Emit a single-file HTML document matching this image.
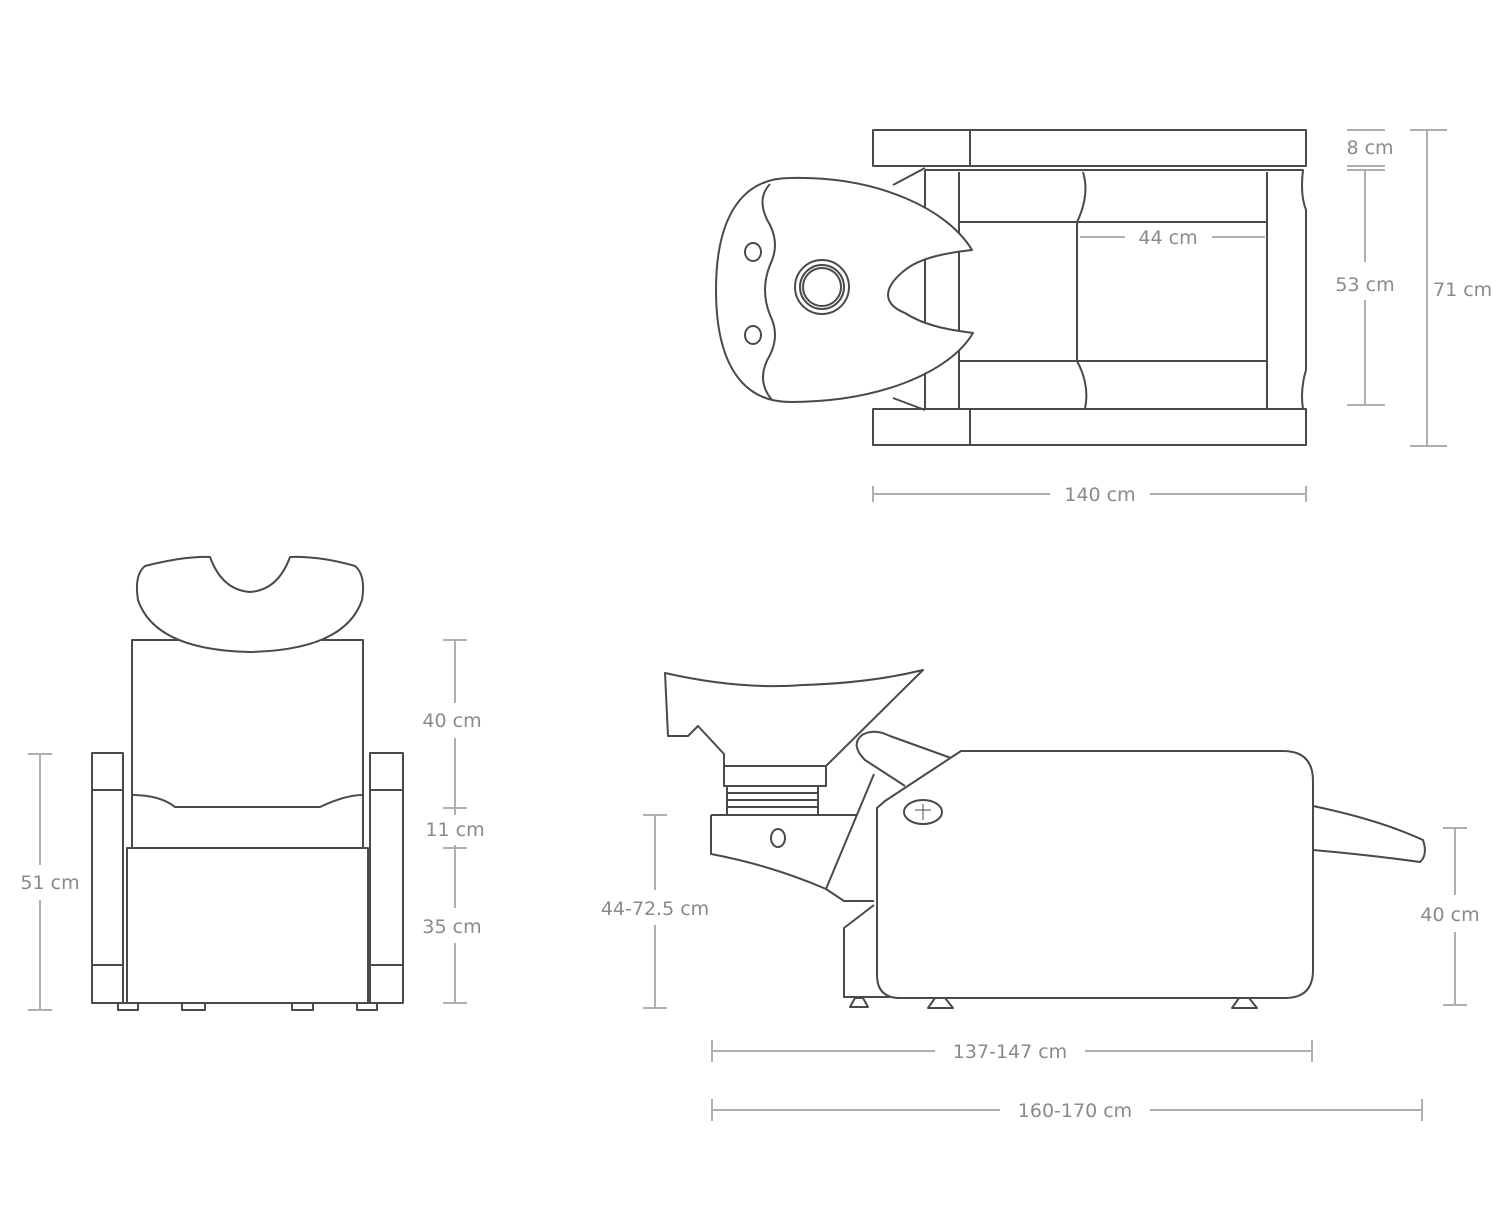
<!DOCTYPE html>
<html><head><meta charset="utf-8"><style>
html,body{margin:0;padding:0;background:#fff;}
svg{display:block;}
text{font-family:"DejaVu Sans","Liberation Sans",sans-serif;font-size:19px;fill:#8a8a8a;}
.l{fill:none;stroke:#4a4a4a;stroke-width:2;stroke-linejoin:round;}
.d{stroke:#b0b0b0;stroke-width:2;fill:none;}
.w{fill:#fff;}
</style></head><body>
<svg width="1500" height="1223" viewBox="0 0 1500 1223" xmlns="http://www.w3.org/2000/svg">
<!-- TOP VIEW -->
<g class="l">
<rect x="873" y="130" width="433" height="36"/><line x1="970" y1="130" x2="970" y2="166"/>
<rect x="873" y="409" width="433" height="36"/><line x1="970" y1="409" x2="970" y2="445"/>
<path d="M925 170 L1303 170 Q1300 195 1306 210 L1306 370 Q1300 390 1303 409 L925 409"/>
<line x1="925" y1="170" x2="925" y2="409"/>
<line x1="959" y1="172" x2="959" y2="409"/>
<line x1="1267" y1="172" x2="1267" y2="409"/>
<line x1="959" y1="222" x2="1267" y2="222"/>
<line x1="959" y1="361" x2="1267" y2="361"/>
<path d="M1083 172 Q1090 195 1077 222 L1077 361 Q1090 385 1085 409"/>
<path d="M893 185 L925 168 M893 398 L925 410"/>
<path class="w" d="M790 178 C880 176 948 210 972 250 C945 253 920 258 905 270 C880 290 885 305 905 313 C925 326 950 330 973 333 C950 372 880 402 790 402 C740 402 716 360 716 290 C716 220 740 178 790 178 Z"/>
<path d="M770 184 Q755 200 770 225 Q780 245 770 265 Q760 290 770 315 Q780 335 770 355 Q755 380 772 400"/>
<circle cx="822" cy="287" r="27"/><circle cx="822" cy="287" r="22"/><circle cx="822" cy="287" r="19"/>
<ellipse cx="753" cy="252" rx="8" ry="9"/><ellipse cx="753" cy="335" rx="8" ry="9"/>
</g>
<g class="d">
<line x1="1080" y1="237" x2="1125" y2="237"/><line x1="1212" y1="237" x2="1265" y2="237"/>
<line x1="1347" y1="130" x2="1385" y2="130"/><line x1="1347" y1="166" x2="1385" y2="166"/><line x1="1347" y1="170" x2="1385" y2="170"/>
<line x1="1365" y1="170" x2="1365" y2="262"/><line x1="1365" y1="300" x2="1365" y2="405"/><line x1="1347" y1="405" x2="1385" y2="405"/>
<line x1="1427" y1="130" x2="1427" y2="446"/><line x1="1410" y1="130" x2="1447" y2="130"/><line x1="1410" y1="446" x2="1447" y2="446"/>
<line x1="873" y1="494" x2="1050" y2="494"/><line x1="1150" y1="494" x2="1306" y2="494"/>
<line x1="873" y1="486" x2="873" y2="502"/><line x1="1306" y1="486" x2="1306" y2="502"/>
</g>
<text x="1168" y="244" text-anchor="middle">44 cm</text>
<text x="1370" y="154" text-anchor="middle">8 cm</text>
<text x="1365" y="291" text-anchor="middle">53 cm</text>
<text x="1433" y="296">71 cm</text>
<text x="1100" y="501" text-anchor="middle">140 cm</text>

<!-- FRONT VIEW -->
<g class="l">
<rect x="132" y="640" width="231" height="208"/>
<path d="M132 795 Q160 795 175 807 L320 807 Q345 795 363 795"/>
<rect x="127" y="848" width="241" height="155"/>
<rect x="92" y="753" width="31" height="250"/><line x1="92" y1="790" x2="123" y2="790"/><line x1="92" y1="965" x2="123" y2="965"/>
<rect x="370" y="753" width="33" height="250"/><line x1="370" y1="790" x2="403" y2="790"/><line x1="370" y1="965" x2="403" y2="965"/>
<path class="w" d="M145 566 Q185 556 210 557 Q222 590 250 592 Q278 590 290 557 Q320 556 355 566 Q366 575 362 600 Q345 650 250 652 Q155 650 138 600 Q134 575 145 566 Z"/>
<rect x="118" y="1003" width="20" height="7"/><rect x="182" y="1003" width="23" height="7"/><rect x="292" y="1003" width="21" height="7"/><rect x="357" y="1003" width="20" height="7"/>
</g>
<g class="d">
<line x1="40" y1="754" x2="40" y2="865"/><line x1="40" y1="900" x2="40" y2="1010"/>
<line x1="28" y1="754" x2="52" y2="754"/><line x1="28" y1="1010" x2="52" y2="1010"/>
<line x1="455" y1="640" x2="455" y2="703"/><line x1="455" y1="738" x2="455" y2="815"/><line x1="455" y1="845" x2="455" y2="908"/><line x1="455" y1="943" x2="455" y2="1003"/>
<line x1="443" y1="640" x2="467" y2="640"/><line x1="443" y1="808" x2="467" y2="808"/><line x1="443" y1="848" x2="467" y2="848"/><line x1="443" y1="1003" x2="467" y2="1003"/>
</g>
<text x="50" y="889" text-anchor="middle">51 cm</text>
<text x="452" y="727" text-anchor="middle">40 cm</text>
<text x="455" y="836" text-anchor="middle">11 cm</text>
<text x="452" y="933" text-anchor="middle">35 cm</text>

<!-- SIDE VIEW -->
<g class="l">
<path d="M665 673 Q740 690 803 685 Q870 683 923 670 L826 766 L724 766 L724 754 L698 726 L688 736 L668 736 Z"/>
<rect x="724" y="766" width="102" height="20"/>
<path d="M727 786 L727 815 M818 786 L818 815 M727 793 L818 793 M727 800 L818 800 M727 807 L818 807"/>
<path d="M711 815 L857 815 M711 815 L711 854 Q770 865 826 889 L844 901 L874 901"/>
<path d="M874 774 L826 889"/>
<path d="M874 905 L844 928 L844 997 L890 997"/>
<path d="M905 786 L865 760 Q850 745 862 735 Q874 728 890 736 L951 758"/>
<path class="w" d="M961 751 L1283 751 Q1313 751 1313 781 L1313 970 Q1313 998 1285 998 L900 998 Q877 998 877 975 L877 808 L885 801 Z"/>
<ellipse cx="923" cy="812" rx="19" ry="12"/>
<path d="M915 810 L931 810 M923 804 L923 820" stroke-width="1"/>
<ellipse cx="778" cy="838" rx="7" ry="9"/>
<path d="M1313 806 Q1380 820 1423 840 Q1428 855 1420 862 Q1370 855 1313 850"/>
<path d="M850 1007 L868 1007 L863 998 L855 998 Z"/><path d="M928 1008 L953 1008 L945 998 L935 998 Z"/><path d="M1232 1008 L1257 1008 L1249 998 L1239 998 Z"/>
</g>
<g class="d">
<line x1="655" y1="815" x2="655" y2="890"/><line x1="655" y1="925" x2="655" y2="1008"/>
<line x1="643" y1="815" x2="667" y2="815"/><line x1="643" y1="1008" x2="667" y2="1008"/>
<line x1="1455" y1="828" x2="1455" y2="895"/><line x1="1455" y1="932" x2="1455" y2="1005"/>
<line x1="1443" y1="828" x2="1467" y2="828"/><line x1="1443" y1="1005" x2="1467" y2="1005"/>
<line x1="712" y1="1051" x2="935" y2="1051"/><line x1="1085" y1="1051" x2="1312" y2="1051"/>
<line x1="712" y1="1040" x2="712" y2="1062"/><line x1="1312" y1="1040" x2="1312" y2="1062"/>
<line x1="712" y1="1110" x2="1000" y2="1110"/><line x1="1150" y1="1110" x2="1422" y2="1110"/>
<line x1="712" y1="1099" x2="712" y2="1121"/><line x1="1422" y1="1099" x2="1422" y2="1121"/>
</g>
<text x="655" y="915" text-anchor="middle">44-72.5 cm</text>
<text x="1450" y="921" text-anchor="middle">40 cm</text>
<text x="1010" y="1058" text-anchor="middle">137-147 cm</text>
<text x="1075" y="1117" text-anchor="middle">160-170 cm</text>
</svg>
</body></html>
